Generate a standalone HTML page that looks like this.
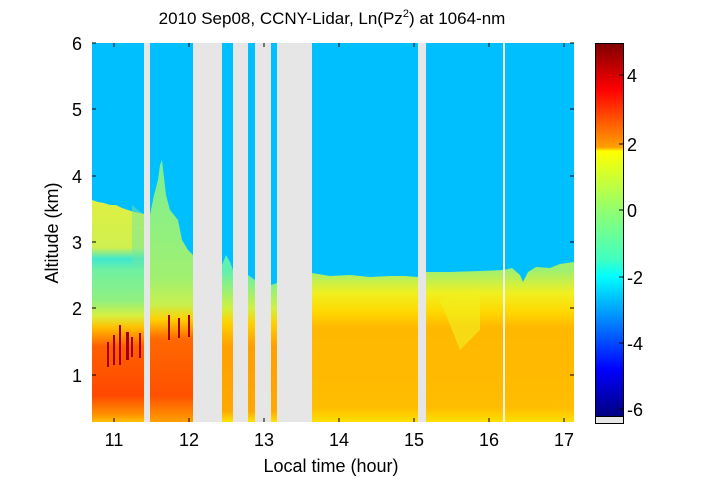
<!DOCTYPE html>
<html><head><meta charset="utf-8"><style>
body{margin:0;background:#fff;}
svg{display:block;font-family:"Liberation Sans",sans-serif;}
</style></head><body>
<svg width="711" height="482" viewBox="0 0 711 482" xmlns="http://www.w3.org/2000/svg">
<defs>
<linearGradient id="g1" x1="0" y1="43" x2="0" y2="422" gradientUnits="userSpaceOnUse">
<stop offset="0.40" stop-color="#e0f040"/>
<stop offset="0.54" stop-color="#d0f050"/>
<stop offset="0.57" stop-color="#40e8d0"/>
<stop offset="0.60" stop-color="#70f0a0"/>
<stop offset="0.68" stop-color="#90f080"/>
<stop offset="0.72" stop-color="#d8f040"/>
<stop offset="0.75" stop-color="#ffc000"/>
<stop offset="0.80" stop-color="#ff6000"/>
<stop offset="0.93" stop-color="#ff4800"/>
<stop offset="0.98" stop-color="#ff9000"/>
<stop offset="1" stop-color="#ffc000"/>
</linearGradient>
<linearGradient id="g2" x1="0" y1="43" x2="0" y2="422" gradientUnits="userSpaceOnUse">
<stop offset="0.35" stop-color="#80f090"/>
<stop offset="0.62" stop-color="#a0f070"/>
<stop offset="0.69" stop-color="#c8f050"/>
<stop offset="0.73" stop-color="#ffd000"/>
<stop offset="0.78" stop-color="#ff6800"/>
<stop offset="0.93" stop-color="#ff5000"/>
<stop offset="1" stop-color="#ffa000"/>
</linearGradient>
<linearGradient id="g3" x1="0" y1="43" x2="0" y2="422" gradientUnits="userSpaceOnUse">
<stop offset="0.60" stop-color="#60f0b0"/>
<stop offset="0.70" stop-color="#d0f040"/>
<stop offset="0.74" stop-color="#ffd000"/>
<stop offset="0.80" stop-color="#ffa000"/>
<stop offset="0.97" stop-color="#ffa800"/>
<stop offset="1" stop-color="#ffe000"/>
</linearGradient>
<linearGradient id="g6" x1="0" y1="43" x2="0" y2="422" gradientUnits="userSpaceOnUse">
<stop offset="0.60" stop-color="#a0f070"/>
<stop offset="0.66" stop-color="#f0f020"/>
<stop offset="0.71" stop-color="#ffd800"/>
<stop offset="0.75" stop-color="#ffb800"/>
<stop offset="0.96" stop-color="#ffbc00"/>
<stop offset="1" stop-color="#ffe000"/>
</linearGradient>
<linearGradient id="cb" x1="0" y1="43" x2="0" y2="416" gradientUnits="userSpaceOnUse">
<stop offset="0" stop-color="#800000"/>
<stop offset="0.125" stop-color="#ff0000"/>
<stop offset="0.28" stop-color="#ffa000"/>
<stop offset="0.29" stop-color="#ffff00"/>
<stop offset="0.45" stop-color="#90ff70"/>
<stop offset="0.58" stop-color="#40ffc0"/>
<stop offset="0.625" stop-color="#00ffff"/>
<stop offset="0.75" stop-color="#0080ff"/>
<stop offset="0.875" stop-color="#0000ff"/>
<stop offset="1" stop-color="#000080"/>
</linearGradient>
</defs>
<rect x="92" y="43" width="482" height="379" fill="#00bfff"/>
<!-- segment 1 -->
<polygon points="92,200 98,202 104,203 110,205 116,205 122,208 128,210 134,212 140,213 144,214 144,422 92,422" fill="url(#g1)"/>
<path d="M132,205 L144,215 L144,270 L132,262Z" fill="#70e8a0" opacity="0.5"/>
<g fill="#a00000">
<rect x="107" y="342" width="2" height="25"/><rect x="113" y="335" width="2" height="30"/>
<rect x="119" y="325" width="2" height="40"/><rect x="126" y="332" width="3" height="28"/>
<rect x="131" y="337" width="2" height="20"/><rect x="139" y="333" width="2" height="25"/>
<rect x="168" y="315" width="2" height="25"/><rect x="178" y="318" width="2" height="20"/><rect x="188" y="315" width="2" height="22"/>
</g>
<!-- segment 2 -->
<polygon points="150,215 154,195 158,180 160,165 162,160 166,195 170,210 174,215 178,220 182,240 188,250 193,255 193,422 150,422" fill="url(#g2)"/>
<g fill="#a00000">
<rect x="168" y="315" width="2" height="25"/><rect x="178" y="318" width="2" height="20"/><rect x="188" y="315" width="2" height="22"/>
</g>
<!-- narrow segments -->
<polygon points="222,265 226,255 230,262 233,270 233,422 222,422" fill="url(#g3)"/>
<polygon points="248,275 255,280 255,422 248,422" fill="url(#g3)"/>
<polygon points="271,285 277,283 277,422 271,422" fill="url(#g3)"/>
<!-- segment 6 -->
<polygon points="312,273 330,276 350,275 370,277 390,276 405,276 418,277 418,422 312,422" fill="url(#g6)"/>
<!-- segment 7 -->
<polygon points="426,272 450,272 480,271 504,270 512,268 520,275 523,282 528,272 536,267 550,268 560,264 574,262 574,422 426,422" fill="url(#g6)"/>
<path d="M440,300 L460,350 L480,330 L480,290 Z" fill="#f0f020" opacity="0.6"/>
<g fill="#e6e6e6">
<rect x="144" y="43" width="6" height="379"/>
<rect x="193" y="43" width="29" height="379"/>
<rect x="233" y="43" width="15" height="379"/>
<rect x="255" y="43" width="16" height="379"/>
<rect x="277" y="43" width="35" height="379"/>
<rect x="418" y="43" width="8" height="379"/>
</g>
<rect x="503" y="43" width="2" height="379" fill="#f4f4e8"/>
<g stroke="#000" stroke-width="1">
<path d="M114,422v-4M189,422v-4M264,422v-4M339,422v-4M414,422v-4M489,422v-4M564,422v-4"/>
<path d="M114,43v4M189,43v4M264,43v4M339,43v4M414,43v4M489,43v4M564,43v4"/>
<path d="M92,43h4M92,109h4M92,176h4M92,242h4M92,308h4M92,375h4"/>
<path d="M574,43h-4M574,109h-4M574,176h-4M574,242h-4M574,308h-4M574,375h-4"/>
</g>
<g font-size="18" fill="#000" text-anchor="middle">
<text x="114" y="446">11</text><text x="189" y="446">12</text><text x="264" y="446">13</text>
<text x="339" y="446">14</text><text x="414" y="446">15</text><text x="489" y="446">16</text><text x="564" y="446">17</text>
</g>
<g font-size="18" fill="#000" text-anchor="end">
<text x="82" y="50">6</text><text x="82" y="116">5</text><text x="82" y="183">4</text>
<text x="82" y="249">3</text><text x="82" y="315">2</text><text x="82" y="382">1</text>
</g>
<text x="331" y="472" font-size="18" text-anchor="middle">Local time (hour)</text>
<text transform="translate(58,233) rotate(-90)" font-size="18" text-anchor="middle">Altitude (km)</text>
<text x="332" y="24" font-size="17" text-anchor="middle">2010 Sep08, CCNY-Lidar, Ln(Pz<tspan dy="-7" font-size="11">2</tspan><tspan dy="7">) at 1064-nm</tspan></text>
<rect x="595.5" y="43.5" width="28" height="373" fill="url(#cb)" stroke="#000"/>
<rect x="595.5" y="416.5" width="28" height="7" fill="#e6e6e6" stroke="#000"/>
<g stroke="#000"><path d="M623,75h-4M623,144h-4M623,210h-4M623,277h-4M623,343h-4M623,409h-4"/></g>
<g font-size="18" fill="#000">
<text x="627" y="82">4</text><text x="627" y="151">2</text><text x="627" y="217">0</text>
<text x="627" y="284">-2</text><text x="627" y="350">-4</text><text x="627" y="416">-6</text>
</g>
</svg>
</body></html>
